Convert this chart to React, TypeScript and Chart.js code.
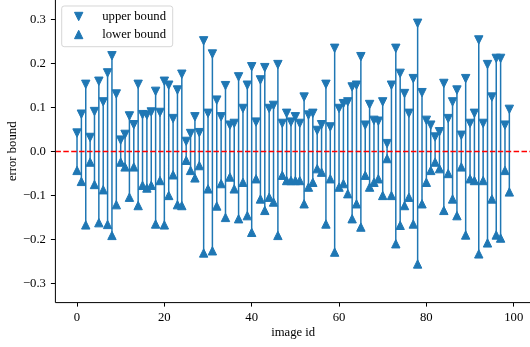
import React, { useEffect, useRef } from 'react';
import { Chart, registerables } from 'chart.js';

Chart.register(...registerables);

const upperBound = [
  0.042, 0.085, 0.153, 0.032, 0.091, 0.160, 0.113, 0.179, 0.218, 0.131,
  0.026, 0.039, 0.081, 0.061, 0.153, 0.084, 0.083, 0.090, 0.137, 0.089,
  0.160, 0.151, 0.075, 0.140, 0.176, 0.023, 0.041, 0.079, 0.043, 0.252,
  0.087, 0.222, 0.117, 0.079, 0.150, 0.060, 0.064, 0.170, 0.098, 0.151,
  0.193, 0.067, 0.163, 0.191, 0.098, 0.105, 0.198, 0.064, 0.087, 0.067,
  0.079, 0.064, 0.124, 0.083, 0.087, 0.048, 0.061, 0.153, 0.056, 0.235,
  0.098, 0.109, 0.113, 0.147, 0.151, 0.216, 0.060, 0.107, 0.071, 0.069,
  0.113, 0.018, 0.151, 0.235, 0.178, 0.132, 0.087, 0.166, 0.292, 0.134,
  0.071, 0.060, 0.033, 0.045, 0.155, 0.075, 0.113, 0.140, 0.037, 0.166,
  0.064, 0.087, 0.254, 0.064, 0.198, 0.124, 0.212, 0.212, 0.060, 0.096,
];

const lowerBound = [
  -0.043, -0.068, -0.167, -0.024, -0.075, -0.162, -0.087, -0.166, -0.191, -0.121,
  -0.024, -0.035, -0.104, -0.035, -0.123, -0.077, -0.083, -0.077, -0.165, -0.066,
  -0.167, -0.100, -0.053, -0.121, -0.123, -0.020, -0.043, -0.060, -0.032, -0.231,
  -0.085, -0.226, -0.124, -0.073, -0.150, -0.058, -0.085, -0.153, -0.070, -0.146,
  -0.184, -0.062, -0.108, -0.134, -0.104, -0.115, -0.191, -0.054, -0.066, -0.066,
  -0.066, -0.066, -0.119, -0.081, -0.070, -0.039, -0.047, -0.165, -0.062, -0.229,
  -0.081, -0.073, -0.096, -0.153, -0.119, -0.172, -0.054, -0.081, -0.070, -0.062,
  -0.100, -0.016, -0.100, -0.210, -0.168, -0.123, -0.104, -0.165, -0.256, -0.119,
  -0.070, -0.043, -0.024, -0.039, -0.134, -0.050, -0.108, -0.146, -0.035, -0.190,
  -0.062, -0.066, -0.233, -0.066, -0.208, -0.108, -0.190, -0.197, -0.043, -0.092,
];

const xTickValues = [0, 20, 40, 60, 80, 100];
const yTickValues = [-0.3, -0.2, -0.1, 0.0, 0.1, 0.2, 0.3];
const legendLabels = ['upper bound', 'lower bound'];
const referenceValue = 0;

// canvas is wider than the window; the axis runs past the right edge as in the reference crop
const X_MIN = -4.95;
const X_MAX = 106.02;
const Y_MIN = -0.344;
const Y_MAX = 0.345;

const BLUE = '#1f77b4';
const FONT = "'Liberation Serif', 'Times New Roman', serif";
const FS = 12.7;
const HALF = 4.2;

function triPath(ctx: CanvasRenderingContext2D, x: number, y: number, down: boolean) {
  ctx.beginPath();
  if (down) {
    ctx.moveTo(x - HALF, y - HALF);
    ctx.lineTo(x + HALF, y - HALF);
    ctx.lineTo(x, y + HALF);
  } else {
    ctx.moveTo(x, y - HALF);
    ctx.lineTo(x + HALF, y + HALF);
    ctx.lineTo(x - HALF, y + HALF);
  }
  ctx.closePath();
  ctx.fillStyle = BLUE;
  ctx.fill();
  ctx.lineWidth = 1;
  ctx.strokeStyle = BLUE;
  ctx.lineJoin = 'miter';
  ctx.stroke();
}

function fmtY(v: number): string {
  const s = Math.abs(v) < 1e-9 ? '0.0' : v.toFixed(1);
  return s.replace('-', '\u2212');
}

function zeroPad(s: any) {
  s.paddingTop = 0;
  s.paddingBottom = 0;
  s.paddingLeft = 0;
  s.paddingRight = 0;
}

export default function App() {
  const canvasRef = useRef<HTMLCanvasElement | null>(null);

  useEffect(() => {
    const canvas = canvasRef.current;
    if (!canvas) return;

    const segData: { x: number; y: number | null }[] = [];
    upperBound.forEach((u, i) => {
      segData.push({ x: i, y: lowerBound[i] });
      segData.push({ x: i, y: u });
      segData.push({ x: i, y: null });
    });

    // markers: positions come from the datasets' elements (library scales)
    const markerPlugin = {
      id: 'mplMarkers',
      afterDatasetsDraw(chart: any) {
        const { ctx } = chart;
        ctx.save();
        chart.data.datasets.forEach((ds: any, di: number) => {
          if (!ds.markerShape) return;
          const meta = chart.getDatasetMeta(di);
          meta.data.forEach((el: any) => {
            triPath(ctx, el.x, el.y, ds.markerShape === 'down');
          });
        });
        ctx.restore();
      },
    };

    const spinePlugin = {
      id: 'mplSpines',
      afterDraw(chart: any) {
        const { ctx, chartArea } = chart;
        ctx.save();
        ctx.strokeStyle = '#000';
        ctx.lineWidth = 1;
        ctx.beginPath();
        ctx.moveTo(chartArea.left, chartArea.top);
        ctx.lineTo(chartArea.left, chartArea.bottom);
        ctx.lineTo(chartArea.right, chartArea.bottom);
        ctx.stroke();
        ctx.restore();
      },
    };

    const legendPlugin = {
      id: 'mplLegend',
      afterDraw(chart: any) {
        const { ctx, chartArea } = chart;
        const bx = chartArea.left + 6.3;
        const by = chartArea.top + 6;
        const bw = 111;
        const bh = 40.7;
        ctx.save();
        ctx.beginPath();
        const r = 2.5;
        ctx.moveTo(bx + r, by);
        ctx.lineTo(bx + bw - r, by);
        ctx.arcTo(bx + bw, by, bx + bw, by + r, r);
        ctx.lineTo(bx + bw, by + bh - r);
        ctx.arcTo(bx + bw, by + bh, bx + bw - r, by + bh, r);
        ctx.lineTo(bx + r, by + bh);
        ctx.arcTo(bx, by + bh, bx, by + bh - r, r);
        ctx.lineTo(bx, by + r);
        ctx.arcTo(bx, by, bx + r, by, r);
        ctx.closePath();
        ctx.fillStyle = 'rgba(255,255,255,0.8)';
        ctx.fill();
        ctx.lineWidth = 1;
        ctx.strokeStyle = 'rgba(204,204,204,0.8)';
        ctx.stroke();
        legendLabels.forEach((lab, k) => {
          const cy = by + 10.5 + k * 18;
          triPath(ctx, bx + 17, cy, k === 0);
          ctx.font = `${FS}px ${FONT}`;
          ctx.fillStyle = '#000';
          ctx.textAlign = 'left';
          ctx.textBaseline = 'middle';
          ctx.fillText(lab, bx + 40.5, cy);
        });
        ctx.restore();
      },
    };

    const chart = new Chart(canvas, {
      type: 'line',
      data: {
        datasets: [
          {
            type: 'line',
            label: 'ranges',
            data: segData as any,
            borderColor: BLUE,
            borderWidth: 1.5,
            pointRadius: 0,
            spanGaps: false,
            fill: false,
            order: 3,
          },
          {
            type: 'line',
            label: 'zero',
            data: [
              { x: X_MIN, y: referenceValue },
              { x: X_MAX, y: referenceValue },
            ] as any,
            borderColor: '#ff0000',
            borderWidth: 1.5,
            borderDash: [5.5, 2.4],
            pointRadius: 0,
            fill: false,
            order: 2,
          },
          {
            type: 'line',
            label: legendLabels[0],
            markerShape: 'down',
            data: upperBound.map((v, i) => ({ x: i, y: v })),
            pointRadius: 0,
            pointHoverRadius: 0,
            showLine: false,
            order: 1,
          },
          {
            type: 'line',
            label: legendLabels[1],
            markerShape: 'up',
            data: lowerBound.map((v, i) => ({ x: i, y: v })),
            pointRadius: 0,
            pointHoverRadius: 0,
            showLine: false,
            order: 1,
          },
        ],
      },
      options: {
        responsive: false,
        animation: false,
        devicePixelRatio: 1,
        layout: { padding: 0, autoPadding: false },
        plugins: {
          legend: { display: false },
          tooltip: { enabled: false },
        },
        events: [],
        scales: {
          x: {
            type: 'linear',
            min: X_MIN,
            max: X_MAX,
            afterBuildTicks: (s: any) => {
              s.ticks = xTickValues.map((v) => ({ value: v }));
            },
            afterFit: (s: any) => {
              s.height = 47.4;
              zeroPad(s);
            },
            grid: {
              display: true,
              drawOnChartArea: false,
              drawTicks: true,
              tickLength: 4,
              tickColor: '#000',
              tickWidth: 1,
            },
            border: { display: false },
            ticks: {
              color: '#000',
              font: { family: FONT, size: FS },
              padding: 3.5,
              maxRotation: 0,
              autoSkip: false,
              callback: (v: any) => String(v),
            },
            title: {
              display: true,
              text: 'image id',
              color: '#000',
              font: { family: FONT, size: FS },
              align: 'start',
              padding: { top: 0, bottom: 10 },
            },
          },
          y: {
            type: 'linear',
            min: Y_MIN,
            max: Y_MAX,
            afterBuildTicks: (s: any) => {
              s.ticks = yTickValues.map((v) => ({ value: v }));
            },
            afterFit: (s: any) => {
              s.width = 55.4;
              zeroPad(s);
            },
            grid: {
              display: true,
              drawOnChartArea: false,
              drawTicks: true,
              tickLength: 4.5,
              tickColor: '#000',
              tickWidth: 1,
            },
            border: { display: false },
            ticks: {
              color: '#000',
              font: { family: FONT, size: FS },
              padding: 5,
              autoSkip: false,
              callback: (v: any) => fmtY(Number(v)),
            },
            title: {
              display: true,
              text: 'error bound',
              color: '#000',
              font: { family: FONT, size: FS },
              padding: { top: 5.5, bottom: 0 },
            },
          },
        },
      },
      plugins: [markerPlugin, spinePlugin, legendPlugin],
    } as any);

    // keep the x-axis title centred on the visible (reference) axis span, not on the wider canvas
    const xs: any = chart.scales.x;
    const origDrawTitle = xs.drawTitle.bind(xs);
    xs.drawTitle = function () {
      const ctx = chart.ctx;
      const visibleRight = xs.getPixelForValue(103.95);
      const center = (xs.left + visibleRight) / 2;
      ctx.save();
      ctx.font = `${FS}px ${FONT}`;
      ctx.fillStyle = '#000';
      ctx.textAlign = 'center';
      ctx.textBaseline = 'middle';
      ctx.fillText('image id', center, xs.bottom - 10 - (FS * 1.2) / 2);
      ctx.restore();
      void origDrawTitle;
    };
    chart.update('none');

    return () => {
      chart.destroy();
    };
  }, []);

  return (
    <div
      style={{
        position: 'fixed',
        left: 0,
        top: 0,
        width: 530,
        height: 347,
        overflow: 'hidden',
        background: '#fff',
      }}
    >
      <canvas
        ref={canvasRef}
        width={540}
        height={350}
        style={{ display: 'block', width: 540, height: 350 }}
      />
    </div>
  );
}
